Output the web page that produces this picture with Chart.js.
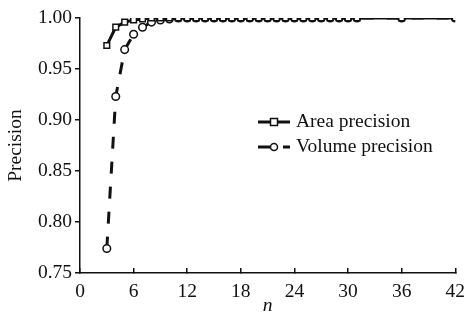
<!DOCTYPE html>
<html lang="en">
<head>
<meta charset="UTF-8">
<title>Precision vs n</title>
<script src="https://cdn.jsdelivr.net/npm/chart.js"></script>
<style>
    body { margin: 0; background: #fff; overflow: hidden; }
    #clip { width: 467px; height: 324px; overflow: hidden; }
    #wrap { width: 477px; height: 324px; }
</style>
</head>
<body>
<div id="clip"><div id="wrap"><canvas id="chart"></canvas></div></div>
<script>
    // x positions where both curves were sampled
    const nValues = [3,4,5,6,7,8,9,10,11,12,13,14,15,16,17,18,19,20,21,22,23,24,25,26,27,28,29,30,31,36,42];
    const areaPrecision = [0.973,0.991,0.996,0.998,0.999,1,1,1,1,1,1,1,1,1,1,1,1,1,1,1,1,1,1,1,1,1,1,1,1,1,1];
    const volumePrecision = [0.774,0.923,0.969,0.984,0.991,0.996,0.998,0.999,1,1,1,1,1,1,1,1,1,1,1,1,1,1,1,1,1,1,1,1,1,1,1];
    const seriesNames = ['Area precision', 'Volume precision'];
    const xTicks = [0,6,12,18,24,30,36,42];
    const yTicks = [0.75,0.80,0.85,0.90,0.95,1.00];

    const serif = '"Liberation Serif", "Times New Roman", serif';

    const toPoints = (ys) => nValues.map((n, i) => ({x: n, y: ys[i]}));

    // legend with line + marker, drawn inside the plot
    const legendPlugin = {
        id: 'lineLegend',
        afterDraw(chart) {
            const c = chart.ctx;
            const area = chart.chartArea;
            const x0 = area.left + 178, y0 = area.top + 104;
            chart.data.datasets.forEach((ds, i) => {
                const y = y0 + i * 25;
                c.save();
                c.strokeStyle = '#111';
                c.lineWidth = 3;
                c.setLineDash(ds.borderDash || []);
                c.beginPath();
                c.moveTo(x0, y);
                c.lineTo(x0 + 32, y);
                c.stroke();
                c.setLineDash([]);
                c.fillStyle = '#fff';
                c.lineWidth = 1.5;
                c.beginPath();
                if (ds.pointStyle === 'rect') {
                    c.rect(x0 + 12.5, y - 3.5, 7, 7);
                } else {
                    c.arc(x0 + 16, y, 3.5, 0, Math.PI * 2);
                }
                c.fill();
                c.stroke();
                c.fillStyle = '#111';
                c.font = '19.5px ' + serif;
                c.textBaseline = 'middle';
                c.fillText(ds.label, x0 + 38, y);
                c.restore();
            });
        }
    };

    new Chart(document.getElementById('chart'), {
        type: 'line',
        data: {
            datasets: [{
                label: seriesNames[0],
                data: toPoints(areaPrecision),
                borderColor: '#111',
                borderWidth: 3,
                pointStyle: 'rect',
                pointRadius: 4,
                pointBorderWidth: 1.5,
                pointBackgroundColor: '#fff',
                pointBorderColor: '#111'
            }, {
                label: seriesNames[1],
                data: toPoints(volumePrecision),
                borderColor: '#111',
                borderWidth: 3,
                borderDash: [12, 13],
                pointStyle: 'circle',
                pointRadius: 3.8,
                pointBorderWidth: 1.5,
                pointBackgroundColor: '#fff',
                pointBorderColor: '#111'
            }]
        },
        options: {
            responsive: true,
            maintainAspectRatio: false,
            animation: false,
            layout: { padding: { top: 18, right: 20, bottom: 0, left: 0 } },
            plugins: { legend: { display: false }, tooltip: { enabled: false } },
            scales: {
                x: {
                    type: 'linear',
                    min: 0, max: 42,
                    afterBuildTicks: (s) => { s.ticks = xTicks.map(v => ({value: v})); },
                    grid: { drawOnChartArea: false, tickLength: -5, color: '#111', lineWidth: 1.5 },
                    border: { color: '#111', width: 1.5 },
                    ticks: { color: '#111', font: { family: serif, size: 19.5 }, padding: 12, maxRotation: 0 },
                    title: { display: true, text: 'n', color: '#111', font: { family: serif, size: 19.5, style: 'italic' }, padding: { top: 0, bottom: 6 } },
                    afterFit: (s) => { s.height = 51; }
                },
                y: {
                    min: 0.75, max: 1.0,
                    afterBuildTicks: (s) => { s.ticks = yTicks.map(v => ({value: v})); },
                    grid: { drawOnChartArea: false, tickLength: 5, color: '#111', lineWidth: 1.5 },
                    border: { color: '#111', width: 1.5 },
                    ticks: { color: '#111', font: { family: serif, size: 19.5 }, padding: 3, callback: (v) => Number(v).toFixed(2) },
                    title: { display: true, text: 'Precision', color: '#111', font: { family: serif, size: 19.5 }, padding: { top: 4, bottom: 2 } },
                    afterFit: (s) => { s.width = 80; }
                }
            }
        },
        plugins: [legendPlugin]
    });
</script>
</body>
</html>
